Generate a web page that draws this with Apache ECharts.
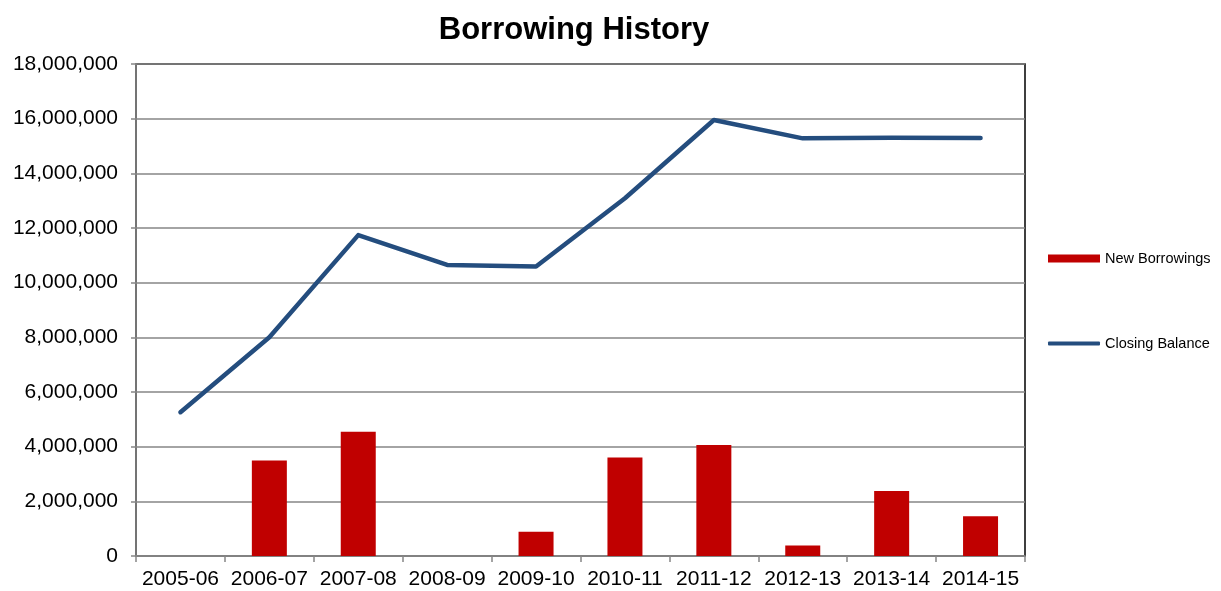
<!DOCTYPE html>
<html>
<head>
<meta charset="utf-8">
<script src="https://cdn.jsdelivr.net/npm/echarts@6/dist/echarts.min.js"></script>
<style>
  html, body { margin: 0; padding: 0; background: #fff; }
  #main { width: 1221px; height: 591px; }
</style>
</head>
<body>
<div id="main"></div>
<script>
// 数据
const years = ['2005-06', '2006-07', '2007-08', '2008-09', '2009-10', '2010-11', '2011-12', '2012-13', '2013-14', '2014-15'];
const newBorrowings = [0, 3490000, 4550000, 0, 890000, 3600000, 4060000, 380000, 2380000, 1450000];
const closingBalance = [5260000, 8000000, 11740000, 10650000, 10590000, 13090000, 15950000, 15280000, 15300000, 15290000];

var myChart = echarts.init(document.getElementById('main'));
const font = 'Liberation Sans, Arial, sans-serif';
const legendText = { fontSize: 14.5, color: '#000', fontFamily: font };

const option = {
  animation: false,
  textStyle: { fontFamily: font },
  title: {
    text: 'Borrowing History',
    left: 569,
    top: 10,
    textAlign: 'center',
    textStyle: { fontSize: 31, fontWeight: 'bold', color: '#000', fontFamily: font },
  },
  grid: {
    left: 136,
    right: 196,
    top: 64,
    bottom: 35,
    show: true,
    borderColor: '#000',
    borderWidth: 1.5,
  },
  legend: [
    {
      left: 1043,
      top: 246,
      itemWidth: 52,
      itemHeight: 8,
      itemGap: 6,
      itemStyle: { borderWidth: 0 },
      textStyle: legendText,
      data: [{ name: 'New Borrowings', icon: 'rect' }],
    },
    {
      left: 1043,
      top: 331,
      itemWidth: 52,
      itemHeight: 4,
      itemStyle: { borderWidth: 0 },
      textStyle: legendText,
      data: [{ name: 'Closing Balance', icon: 'roundRect' }],
    },
  ],
  xAxis: {
    type: 'category',
    data: years,
    boundaryGap: true,
    axisLine: { lineStyle: { color: '#868686', width: 1.5 } },
    axisTick: { show: true, length: 6, lineStyle: { color: '#868686', width: 1.5 } },
    axisLabel: { fontSize: 21, color: '#000', margin: 13, interval: 0 },
  },
  yAxis: {
    type: 'value',
    min: 0,
    max: 18000000,
    interval: 2000000,
    axisLine: { show: true, lineStyle: { color: '#868686', width: 1.5 } },
    axisTick: { show: true, length: 5, lineStyle: { color: '#868686', width: 1.5 } },
    axisLabel: {
      fontSize: 21,
      color: '#000',
      margin: 18,
      formatter: v => v.toLocaleString('en-US'),
    },
    splitLine: { lineStyle: { color: '#868686', width: 1.5 } },
  },
  series: [
    {
      name: 'New Borrowings',
      type: 'bar',
      data: newBorrowings,
      barWidth: 35,
      itemStyle: { color: '#c00000' },
    },
    {
      name: 'Closing Balance',
      type: 'line',
      data: closingBalance,
      symbol: 'none',
      lineStyle: { color: '#244d7e', width: 4.5, cap: 'round', join: 'round' },
      itemStyle: { color: '#244d7e' },
    },
  ],
};
myChart.setOption(option);
</script>
</body>
</html>
